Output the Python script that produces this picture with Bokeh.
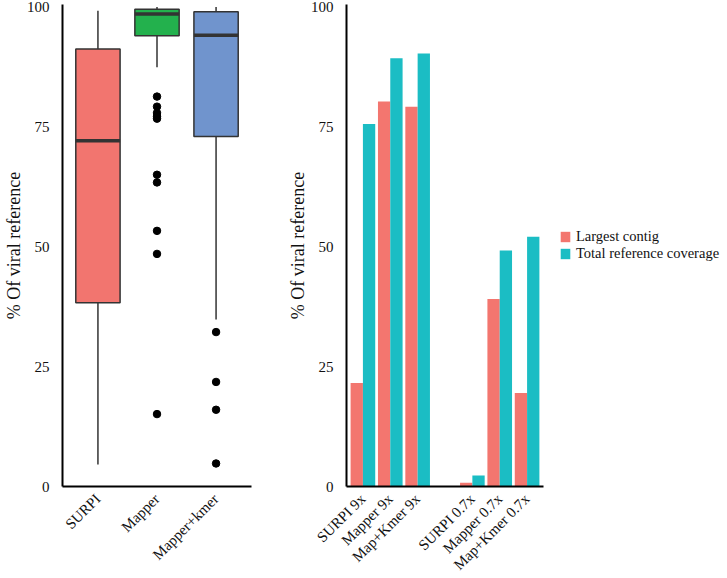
import math
from bokeh.plotting import figure
from bokeh.layouts import row
from bokeh.models import (ColumnDataSource, Range1d, FixedTicker, Legend, LegendItem)
from bokeh.embed import file_html
from bokeh.resources import INLINE

# ---------------- data ----------------
box_categories = ["SURPI", "Mapper", "Mapper+kmer"]
box_lower = [4.6, 87.4, 34.8]
box_q1 = [38.3, 94.0, 73.0]
box_median = [72.1, 98.5, 94.1]
box_q3 = [91.2, 99.5, 99.0]
box_upper = [99.2, 100.0, 100.0]
box_colors = ["#F2756F", "#23B14D", "#7094CD"]
mapper_outliers = [81.3, 79.2, 77.9, 77.2, 76.7, 65.0, 63.4, 53.3, 48.5, 15.1]
kmer_outliers = [32.2, 21.8, 16.0, 4.8]

methods = ["SURPI", "Mapper", "Map+Kmer"]
depths = ["9x", "0.7x"]
largest_contig = {"9x": [21.6, 80.3, 79.2], "0.7x": [0.8, 39.1, 19.5]}
total_coverage = {"9x": [75.6, 89.3, 90.3], "0.7x": [2.3, 49.2, 52.1]}
series_names = ["Largest contig", "Total reference coverage"]
series_colors = ["#F3766F", "#1BBDC4"]

y_ticks = [0, 25, 50, 75, 100]

FONT = "'Liberation Serif', 'Times New Roman', serif"
INK = "#111111"


def style(p):
    p.xgrid.visible = False
    p.ygrid.visible = False
    p.outline_line_color = None
    p.background_fill_color = "white"
    p.border_fill_color = "white"
    for ax in (p.xaxis[0], p.yaxis[0]):
        ax.axis_line_color = "black"
        ax.axis_line_width = 2
        ax.major_tick_line_color = None
        ax.minor_tick_line_color = None
        ax.major_label_text_font = FONT
        ax.major_label_text_font_size = "15px"
        ax.major_label_text_color = INK
        ax.axis_label_text_font = FONT
        ax.axis_label_text_font_size = "18px"
        ax.axis_label_text_font_style = "normal"
        ax.axis_label_text_color = INK
    p.yaxis.ticker = FixedTicker(ticks=y_ticks)
    p.yaxis.major_label_standoff = 7
    p.yaxis.axis_label_standoff = 0
    p.yaxis.axis_label = "% Of viral reference"
    p.xaxis.major_label_orientation = math.pi / 4
    p.xaxis.major_label_standoff = 4


# ---------------- left: box plot ----------------
p1 = figure(frame_width=189, frame_height=482, output_backend="svg", toolbar_location=None,
            x_range=Range1d(0.4, 3.6), y_range=Range1d(0, 100.5),
            min_border_left=40, min_border_right=20, min_border_top=4,
            min_border_bottom=85)
style(p1)

bx = [i + 1 for i in range(len(box_categories))]
bw = 0.75
src = ColumnDataSource(dict(
    x=bx, lo=box_lower, q1=box_q1, med=box_median, q3=box_q3, hi=box_upper,
    color=box_colors,
    left=[v - bw / 2 for v in bx], right=[v + bw / 2 for v in bx]))
p1.segment(x0="x", y0="lo", x1="x", y1="q1", source=src, line_color="#333333", line_width=1.5)
p1.segment(x0="x", y0="q3", x1="x", y1="hi", source=src, line_color="#333333", line_width=1.5)
p1.vbar(x="x", width=bw, bottom="q1", top="q3", source=src, fill_color="color",
        line_color="#333333", line_width=1.5)
p1.segment(x0="left", y0="med", x1="right", y1="med", source=src, line_color="#333333", line_width=3.5)

ox = [2] * len(mapper_outliers) + [3] * len(kmer_outliers)
oy = mapper_outliers + kmer_outliers
p1.scatter(ox, oy, size=7.5, fill_color="black", line_color="black")

p1.xaxis.ticker = FixedTicker(ticks=bx)
p1.xaxis.major_label_overrides = {v: c for v, c in zip(bx, box_categories)}

# ---------------- right: bars ----------------
p2 = figure(frame_width=197, frame_height=482, output_backend="svg", toolbar_location=None,
            x_range=Range1d(0.4, 7.6), y_range=Range1d(0, 100.5),
            min_border_left=75, min_border_right=10, min_border_top=4,
            min_border_bottom=85)
style(p2)

pos, labels, lc, tc = [], [], [], []
for di, d in enumerate(depths):
    for mi, m in enumerate(methods):
        pos.append(di * (len(methods) + 1) + mi + 1)
        labels.append(f"{m} {d}")
        lc.append(largest_contig[d][mi])
        tc.append(total_coverage[d][mi])

bsrc = ColumnDataSource(dict(x=pos, lc=lc, tc=tc,
                             xl=[v - 0.225 for v in pos], xr=[v + 0.225 for v in pos]))
r1 = p2.vbar(x="xl", width=0.45, bottom=0, top="lc", source=bsrc,
             fill_color=series_colors[0], line_color=None)
r2 = p2.vbar(x="xr", width=0.45, bottom=0, top="tc", source=bsrc,
             fill_color=series_colors[1], line_color=None)

p2.xaxis.ticker = FixedTicker(ticks=pos)
p2.xaxis.major_label_overrides = {v: l for v, l in zip(pos, labels)}

legend = Legend(items=[LegendItem(label=series_names[0], renderers=[r1]),
                       LegendItem(label=series_names[1], renderers=[r2])],
                location="center_left", orientation="vertical")
legend.border_line_color = None
legend.background_fill_alpha = 0
legend.label_text_font = FONT
legend.label_text_font_size = "14.5px"
legend.label_text_color = INK
legend.glyph_width = 12
legend.glyph_height = 13
legend.label_height = 13
legend.spacing = 0
legend.padding = 4
legend.margin = 16
legend.label_standoff = 5
p2.add_layout(legend, "right")

layout = row(p1, p2)
open("out.html", "w").write(file_html(layout, INLINE))
